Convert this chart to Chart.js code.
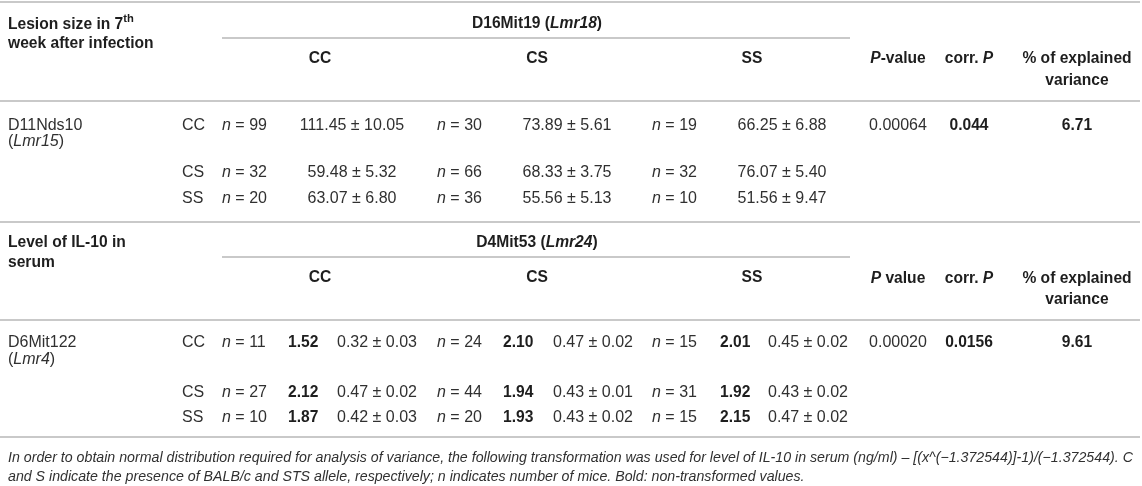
<!DOCTYPE html>
<html>
<head>
<meta charset="utf-8">
<title>Lesion size and IL-10 by genotype</title>
<script src="https://cdn.jsdelivr.net/npm/chart.js@4"></script>
<style>
  html, body { margin: 0; padding: 0; background: #fff; }
  #wrap { width: 1142px; height: 486px; position: relative; }
</style>
</head>
<body>
<div id="wrap"><canvas id="tbl"></canvas></div>
<script>
const genotypes = ['CC', 'CS', 'SS'];

// Lesion size in 7th week, rows = D11Nds10 genotype, cols = D16Mit19 genotype
const lesionN = [[99, 30, 19], [32, 66, 32], [20, 36, 10]];
const lesionMean = [[111.45, 73.89, 66.25], [59.48, 68.33, 76.07], [63.07, 55.56, 51.56]];
const lesionSE = [[10.05, 5.61, 6.88], [5.32, 3.75, 5.40], [6.80, 5.13, 9.47]];
const lesionStats = ['0.00064', '0.044', '6.71'];

// IL-10 in serum, rows = D6Mit122 genotype, cols = D4Mit53 genotype
const il10N = [[11, 24, 15], [27, 44, 31], [10, 20, 15]];
const il10Raw = [[1.52, 2.10, 2.01], [2.12, 1.94, 1.92], [1.87, 1.93, 2.15]];
const il10Mean = [[0.32, 0.47, 0.45], [0.47, 0.43, 0.43], [0.42, 0.43, 0.47]];
const il10SE = [[0.03, 0.02, 0.02], [0.02, 0.01, 0.02], [0.03, 0.02, 0.02]];
const il10Stats = ['0.00020', '0.0156', '9.61'];

const footnote = [
  'In order to obtain normal distribution required for analysis of variance, the following transformation was used for level of IL-10 in serum (ng/ml) \u2013 [(x^(\u22121.372544)]-1)/(\u22121.372544). C',
  'and S indicate the presence of BALB/c and STS allele, respectively; n indicates number of mice. Bold: non-transformed values.'
];

// ---- layout (table units = px on a 1142 x 486 grid) ----
const W = 1142, H = 486;
const COL_LABEL = 8, COL_GENO = 182;
const COL_N = [222, 437, 652];
const COL_LESION = [352, 567, 782];
const COL_RAW = [288, 503, 720];
const COL_MEAN = [337, 553, 768];
const COL_HEAD = [320, 537, 752];
const COL_STAT = [898, 969, 1077];
const RULES = [2, 101, 222, 320, 437];
const SUB_RULES = [38, 257];
const SUB_RULE_SPAN = [222, 850];

const FAMILY = '"Liberation Sans", Arial, Helvetica, sans-serif';
const TEXT = '#303030';
const RULE = '#c9c9c9';
const BOLD_SCALE = 0.975; // bold face in the original runs a little narrower

// text run helpers
const t = (s) => ({ s, w: '', st: '' });
const b = (s) => ({ s, w: 'bold', st: '' });
const it = (s) => ({ s, w: '', st: 'italic' });
const bi = (s) => ({ s, w: 'bold', st: 'italic' });
const sup = (s) => ({ s, w: 'bold', st: '', sup: true });
const pm = (m, e) => m.toFixed(2) + ' \u00b1 ' + e.toFixed(2);

const cells = [];
function cell(x, y, runs, align, size) {
  cells.push({ x, y, runs, align: align || 'left', size: size || 16 });
}

// ---- upper block: lesion size ----
cell(COL_LABEL, 29, [b('Lesion size in 7'), sup('th')]);
cell(COL_LABEL, 48, [b('week after infection')]);
cell(COL_HEAD[1], 28, [b('D16Mit19 ('), bi('Lmr18'), b(')')], 'center');
genotypes.forEach((g, j) => cell(COL_HEAD[j], 63, [b(g)], 'center'));
cell(COL_STAT[0], 63, [bi('P'), b('-value')], 'center');
cell(COL_STAT[1], 63, [b('corr. '), bi('P')], 'center');
cell(COL_STAT[2], 63, [b('% of explained')], 'center');
cell(COL_STAT[2], 85, [b('variance')], 'center');

const lesionRows = [130, 177, 203];
cell(COL_LABEL, 130, [t('D11Nds10')]);
cell(COL_LABEL, 146, [t('('), it('Lmr15'), t(')')]);
genotypes.forEach((g, i) => {
  const y = lesionRows[i];
  cell(COL_GENO, y, [t(g)]);
  genotypes.forEach((_, j) => {
    cell(COL_N[j], y, [it('n'), t(' = ' + lesionN[i][j])]);
    cell(COL_LESION[j], y, [t(pm(lesionMean[i][j], lesionSE[i][j]))], 'center');
  });
});
cell(COL_STAT[0], 130, [t(lesionStats[0])], 'center');
cell(COL_STAT[1], 130, [b(lesionStats[1])], 'center');
cell(COL_STAT[2], 130, [b(lesionStats[2])], 'center');

// ---- lower block: IL-10 ----
cell(COL_LABEL, 247, [b('Level of IL-10 in')]);
cell(COL_LABEL, 267, [b('serum')]);
cell(COL_HEAD[1], 247, [b('D4Mit53 ('), bi('Lmr24'), b(')')], 'center');
genotypes.forEach((g, j) => cell(COL_HEAD[j], 282, [b(g)], 'center'));
cell(COL_STAT[0], 283, [bi('P'), b(' value')], 'center');
cell(COL_STAT[1], 283, [b('corr. '), bi('P')], 'center');
cell(COL_STAT[2], 283, [b('% of explained')], 'center');
cell(COL_STAT[2], 304, [b('variance')], 'center');

const il10Rows = [347, 397, 422];
cell(COL_LABEL, 347, [t('D6Mit122')]);
cell(COL_LABEL, 364, [t('('), it('Lmr4'), t(')')]);
genotypes.forEach((g, i) => {
  const y = il10Rows[i];
  cell(COL_GENO, y, [t(g)]);
  genotypes.forEach((_, j) => {
    cell(COL_N[j], y, [it('n'), t(' = ' + il10N[i][j])]);
    cell(COL_RAW[j], y, [b(il10Raw[i][j].toFixed(2))]);
    cell(COL_MEAN[j], y, [t(pm(il10Mean[i][j], il10SE[i][j]))]);
  });
});
cell(COL_STAT[0], 347, [t(il10Stats[0])], 'center');
cell(COL_STAT[1], 347, [b(il10Stats[1])], 'center');
cell(COL_STAT[2], 347, [b(il10Stats[2])], 'center');

// ---- footnote ----
cell(COL_LABEL, 462, [it(footnote[0])], 'left', 14.2);
cell(COL_LABEL, 481, [it(footnote[1])], 'left', 14.2);

// ---- datasets: rules as lines, text cells as invisible points ----
const ruleSets = RULES.map((y) => ({
  type: 'line',
  data: [{ x: 0, y }, { x: W - 2, y }],
  borderColor: RULE, borderWidth: 2, pointRadius: 0, clip: false
}));
const subRuleSets = SUB_RULES.map((y) => ({
  type: 'line',
  data: [{ x: SUB_RULE_SPAN[0], y }, { x: SUB_RULE_SPAN[1], y }],
  borderColor: RULE, borderWidth: 2, pointRadius: 0, clip: false
}));
const textSet = {
  type: 'scatter',
  label: 'cells',
  data: cells,
  pointRadius: 0,
  clip: false
};

function drawRuns(ctx, runs, x, y, align, size) {
  const fontOf = (r) => {
    let sz = r.w === 'bold' ? size * BOLD_SCALE : size;
    if (r.sup) sz = size * 0.7;
    return [r.st, r.w, sz.toFixed(2) + 'px', FAMILY].filter(Boolean).join(' ');
  };
  let total = 0;
  runs.forEach((r) => { ctx.font = fontOf(r); r._w = ctx.measureText(r.s).width; total += r._w; });
  let cx = align === 'center' ? x - total / 2 : x;
  runs.forEach((r) => {
    ctx.font = fontOf(r);
    ctx.fillStyle = r.w === 'bold' ? '#1e1e1e' : TEXT;
    ctx.fillText(r.s, cx, r.sup ? y - size * 0.42 : y);
    cx += r._w;
  });
}

const tablePlugin = {
  id: 'tableText',
  afterDatasetsDraw(chart) {
    const ctx = chart.ctx;
    const idx = chart.data.datasets.indexOf(textSet);
    const meta = chart.getDatasetMeta(idx);
    ctx.save();
    ctx.textBaseline = 'alphabetic';
    ctx.textAlign = 'left';
    meta.data.forEach((pt, i) => {
      const c = textSet.data[i];
      drawRuns(ctx, c.runs, pt.x, pt.y, c.align, c.size);
    });
    ctx.restore();
  }
};

new Chart(document.getElementById('tbl'), {
  type: 'scatter',
  data: { datasets: [...ruleSets, ...subRuleSets, textSet] },
  options: {
    responsive: true,
    maintainAspectRatio: false,
    animation: false,
    events: [],
    layout: { padding: 0 },
    plugins: { legend: { display: false }, tooltip: { enabled: false } },
    scales: {
      x: { type: 'linear', min: 0, max: W, display: false },
      y: { type: 'linear', min: 0, max: H, reverse: true, display: false }
    }
  },
  plugins: [tablePlugin]
});
</script>
</body>
</html>
